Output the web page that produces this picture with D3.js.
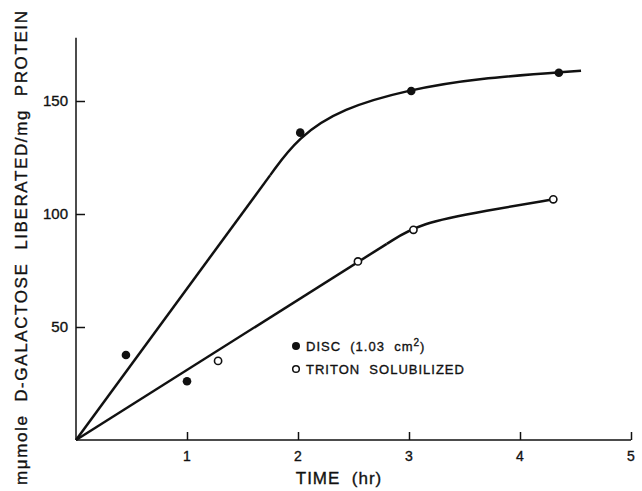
<!DOCTYPE html>
<html>
<head>
<meta charset="utf-8">
<script src="https://cdn.jsdelivr.net/npm/d3@7"></script>
<style>
  body { margin: 0; background: #fff; }
  text { font-family: "Liberation Sans", Arial, sans-serif; fill: #111; stroke: #111; stroke-width: 0.35px; }
</style>
</head>
<body>
<div id="container"></div>
<script>
// measured points
var discTime = [0.45, 1.0, 2.02, 3.02, 4.35];
var discValue = [37.6, 26, 136, 154.4, 162.5];
var tritonTime = [1.28, 2.54, 3.04, 4.3];
var tritonValue = [35, 79, 93, 106.5];

// hand drawn fitted curves:
// a straight start to the first bend point, then a smooth bend
var discCurveTime = [0, 1.75, 2.0, 2.4, 3.0, 3.6, 4.55];
var discCurveValue = [0, 117.2, 134, 146.8, 155.0, 160.0, 163.4];
var tritonCurveTime = [0, 2.8, 3.1, 3.7, 4.3];
var tritonCurveValue = [0, 86.8, 96.1, 101.5, 106.5];

var xTicks = [1, 2, 3, 4, 5];
var yTicks = [50, 100, 150];
var legendLabels = ["DISC (1.03 cm²)", "TRITON SOLUBILIZED"];

var width = 642, height = 491;

var x = d3.scaleLinear().domain([0, 5]).range([76, 631]);
var y = d3.scaleLinear().domain([0, 150]).range([440, 101]);

var svg = d3.select("#container")
  .append("svg")
    .attr("width", width)
    .attr("height", height);

// axes lines
svg.append("line")
  .attr("x1", x(0)).attr("x2", x(5))
  .attr("y1", y(0)).attr("y2", y(0))
  .attr("stroke", "#111").attr("stroke-width", 1.5);
svg.append("line")
  .attr("x1", x(0)).attr("x2", x(0))
  .attr("y1", y(0)).attr("y2", y(178))
  .attr("stroke", "#111").attr("stroke-width", 1.5);

// x ticks point up into the plot
var xAxis = svg.append("g")
  .attr("transform", "translate(0," + y(0) + ")")
  .call(d3.axisTop(x).tickValues(xTicks).tickSize(8).tickFormat(""));
xAxis.select(".domain").remove();
xAxis.selectAll("line").attr("stroke", "#111").attr("stroke-width", 1.5);

svg.selectAll("text.xlab")
  .data(xTicks)
  .enter()
  .append("text")
    .attr("class", "xlab")
    .attr("x", function(d){ return x(d); })
    .attr("y", y(0) + 21)
    .attr("text-anchor", "middle")
    .attr("font-size", "14px")
    .text(function(d){ return d; });

// y ticks point right into the plot
var yAxis = svg.append("g")
  .attr("transform", "translate(" + x(0) + ",0)")
  .call(d3.axisRight(y).tickValues(yTicks).tickSize(9).tickFormat(""));
yAxis.select(".domain").remove();
yAxis.selectAll("line").attr("stroke", "#111").attr("stroke-width", 1.5);

svg.selectAll("text.ylab")
  .data(yTicks)
  .enter()
  .append("text")
    .attr("class", "ylab")
    .attr("x", x(0) - 8)
    .attr("y", function(d){ return y(d) + 5; })
    .attr("text-anchor", "end")
    .attr("font-size", "15px")
    .text(function(d){ return d; });

// axis titles
svg.append("text")
  .attr("x", 339)
  .attr("y", 484)
  .attr("text-anchor", "middle")
  .attr("font-size", "17px")
  .attr("letter-spacing", "1px")
  .style("white-space", "pre")
  .text("TIME  (hr)");

svg.append("text")
  .attr("transform", "translate(27,248) rotate(-90)")
  .attr("text-anchor", "middle")
  .attr("font-size", "17px")
  .attr("textLength", 474)
  .attr("lengthAdjust", "spacing")
  .style("white-space", "pre")
  .text("mμmole  D-GALACTOSE  LIBERATED/mg  PROTEIN");

// curves: straight start, then a b-spline bend leaving tangent to the line
var straight = d3.line()
  .x(function(d){ return x(d[0]); })
  .y(function(d){ return y(d[1]); });
var bend = d3.line()
  .x(function(d){ return x(d[0]); })
  .y(function(d){ return y(d[1]); })
  .curve(d3.curveBasis);

function drawCurve(t, v) {
  var pts = d3.zip(t, v);
  svg.append("path")
    .attr("d", straight(pts.slice(0, 2)))
    .attr("fill", "none").attr("stroke", "#111").attr("stroke-width", 2.5);
  svg.append("path")
    .attr("d", bend(pts.slice(1)))
    .attr("fill", "none").attr("stroke", "#111").attr("stroke-width", 2.5);
}
drawCurve(discCurveTime, discCurveValue);
drawCurve(tritonCurveTime, tritonCurveValue);

// points
svg.selectAll("circle.disc")
  .data(d3.zip(discTime, discValue))
  .enter()
  .append("circle")
    .attr("class", "disc")
    .attr("cx", function(d){ return x(d[0]); })
    .attr("cy", function(d){ return y(d[1]); })
    .attr("r", 4.3)
    .attr("fill", "#111");

svg.selectAll("circle.triton")
  .data(d3.zip(tritonTime, tritonValue))
  .enter()
  .append("circle")
    .attr("class", "triton")
    .attr("cx", function(d){ return x(d[0]); })
    .attr("cy", function(d){ return y(d[1]); })
    .attr("r", 3.6)
    .attr("fill", "#fff")
    .attr("stroke", "#111")
    .attr("stroke-width", 1.6);

// legend
var legend = svg.append("g").attr("transform", "translate(296,346)");
legend.append("circle").attr("cx", 0).attr("cy", 0).attr("r", 4).attr("fill", "#111");
legend.append("circle").attr("cx", 0).attr("cy", 23).attr("r", 3.3)
  .attr("fill", "#fff").attr("stroke", "#111").attr("stroke-width", 1.5);

var t1 = legend.append("text").attr("x", 10).attr("y", 5).attr("font-size", "13px")
  .attr("letter-spacing", "1px")
  .style("white-space", "pre");
t1.append("tspan").text("DISC  (1.03  cm");
t1.append("tspan").attr("font-size", "10px").attr("dy", -5).text("2");
t1.append("tspan").attr("dy", 5).text(")");

legend.append("text").attr("x", 10).attr("y", 28).attr("font-size", "13px")
  .attr("letter-spacing", "1px")
  .style("white-space", "pre")
  .text(legendLabels[1].replace(" ", "  "));
</script>
</body>
</html>
